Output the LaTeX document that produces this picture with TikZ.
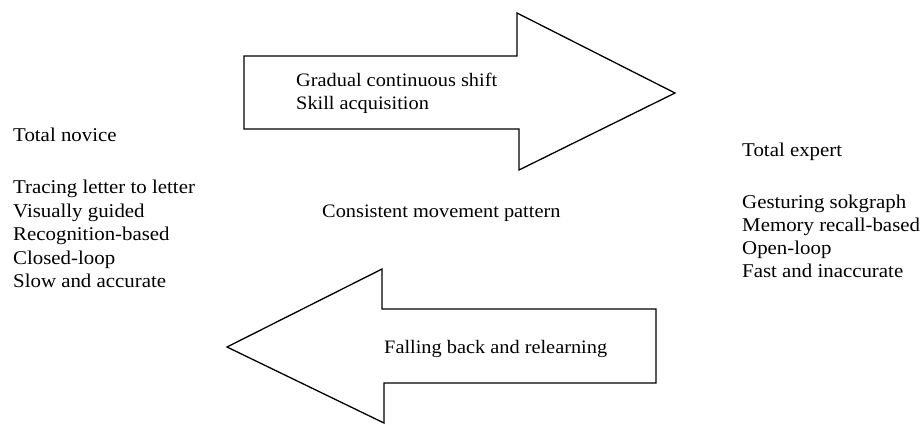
\documentclass[tikz,border=0pt]{standalone}
\usepackage{fontspec}
\setmainfont{Liberation Serif}[FakeStretch=1.07]
\begin{document}
\begin{tikzpicture}[x=1pt,y=-1pt,
  lbl/.style={anchor=base west,inner sep=0pt,font=\fontsize{19}{23}\selectfont},
  side/.style={lbl,font=\fontsize{19.5}{23}\selectfont},
  bigarrow/.style={draw=black,line width=1.3pt,line join=miter,fill=white}]
\useasboundingbox (0,0) rectangle (921,424);
% forward arrow
\draw[bigarrow] (244,56) -- (517,56) -- (517,13) -- (675,93) -- (519,170) -- (519,129) -- (244,129) -- cycle;
% backward arrow
\draw[bigarrow] (656,309) -- (382,309) -- (382,269) -- (227,347) -- (384,423) -- (384,383) -- (656,383) -- cycle;
\node[lbl] (g1) at (296,86) {Gradual continuous shift};
\node[lbl] (g2) at (296,109) {Skill acquisition};
\node[lbl] (cm) at (322,217) {Consistent movement pattern};
\node[lbl] (fb) at (384,353) {Falling back and relearning};
% novice
\node[side] (n0) at (13,141) {Total novice};
\node[side] (n1) at (13,193) {Tracing letter to letter};
\node[side] (n2) at (13,217) {Visually guided};
\node[side] (n3) at (13,240) {Recognition-based};
\node[side] (n4) at (13,264) {Closed-loop};
\node[side] (n5) at (13,287) {Slow and accurate};
% expert
\node[side] (e0) at (742,156) {Total expert};
\node[side] (e1) at (742,208) {Gesturing sokgraph};
\node[side] (e2) at (742,231) {Memory recall-based};
\node[side] (e3) at (742,254) {Open-loop};
\node[side] (e4) at (742,277) {Fast and inaccurate};
\end{tikzpicture}
\end{document}
